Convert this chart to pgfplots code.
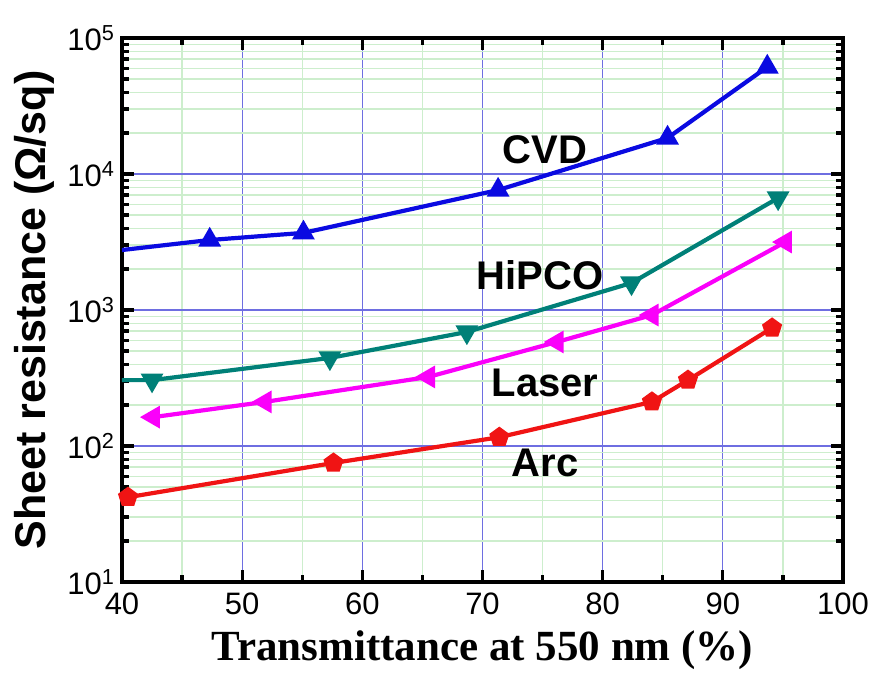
\documentclass[border=0pt]{standalone}
\usepackage{fontspec}
\setmainfont{Liberation Serif}
\newfontfamily\arial{Liberation Sans}
\usepackage{pgfplots}
\pgfplotsset{compat=1.18}
\definecolor{cvd}{RGB}{10,10,225}
\definecolor{hipco}{RGB}{0,128,120}
\definecolor{laser}{RGB}{250,0,250}
\definecolor{arc}{RGB}{240,20,20}
\definecolor{majgrid}{RGB}{110,110,225}
\definecolor{mingrid}{RGB}{205,238,205}
\begin{document}
\begin{tikzpicture}
\path[use as bounding box] (-61pt,-45.5pt) rectangle (376.5pt,291pt);
\begin{axis}[
  at={(0,0)}, anchor=south west,
  scale only axis, width=360.5pt, height=272pt,
  xmin=40, xmax=100, ymode=log, ymin=10, ymax=100000,
  xtick={40,50,...,100}, minor xtick={45,55,...,95},
  ytick={10,100,1000,10000,100000},
  yticklabels={10\textsuperscript{1},10\textsuperscript{2},10\textsuperscript{3},10\textsuperscript{4},10\textsuperscript{5}},
  /pgf/number format/assume math mode=true,
  ticklabel style={font=\arial\fontsize{15.5}{17}\selectfont},
  tick align=inside, major tick length=6pt, minor tick length=3.5pt,
  tick style={black, line width=1.6pt},
  axis line style={line width=2pt},
  grid=both,
  major grid style={majgrid, line width=0.6pt},
  minor grid style={mingrid, line width=0.6pt},
  xlabel={\fontsize{21.5}{23}\selectfont\bfseries Transmittance at 550 nm (\%)},
  ylabel={\arial\fontsize{21.5}{23}\selectfont\bfseries Sheet resistance (Ω/sq)},
  xlabel style={anchor=center, at={(axis description cs:0.5,-0.125)}},
  ylabel style={anchor=center, at={(axis description cs:-0.121,0.5)}},
  xticklabel style={yshift=-2pt},
  every axis plot/.append style={line width=2.1pt},
]
\addplot[cvd, mark=triangle*, mark size=4.5pt, mark indices={2,3,4,5,6}] coordinates {
(40,2760) (47.3,3270) (55.1,3690) (71.3,7620) (85.4,18400) (93.7,61200)};
\addplot[hipco, mark=triangle*, mark options={rotate=180}, mark size=4.5pt, mark indices={2,3,4,5,6}] coordinates {
(40,305) (42.5,305) (57.3,444) (68.7,689) (82.4,1580) (94.6,6660)};
\addplot[laser, mark=triangle*, mark options={rotate=90}, mark size=4.5pt] coordinates {
(42.6,163) (51.9,211) (65.5,322) (76.2,582) (84.1,918) (95.2,3160)};
\addplot[arc, mark=pentagon*, mark size=4pt] coordinates {
(40.5,42) (57.6,75) (71.4,116) (84.1,211) (87.1,305) (94.1,738)};
\node[font=\arial\fontsize{20}{22}\selectfont\bfseries] at (axis cs:75.2,15000) {CVD};
\node[font=\arial\fontsize{20}{22}\selectfont\bfseries] at (axis cs:74.8,1810) {HiPCO};
\node[font=\arial\fontsize{20}{22}\selectfont\bfseries] at (axis cs:75.2,290) {Laser};
\node[font=\arial\fontsize{20}{22}\selectfont\bfseries] at (axis cs:75.2,75) {Arc};
\end{axis}
\end{tikzpicture}
\end{document}
